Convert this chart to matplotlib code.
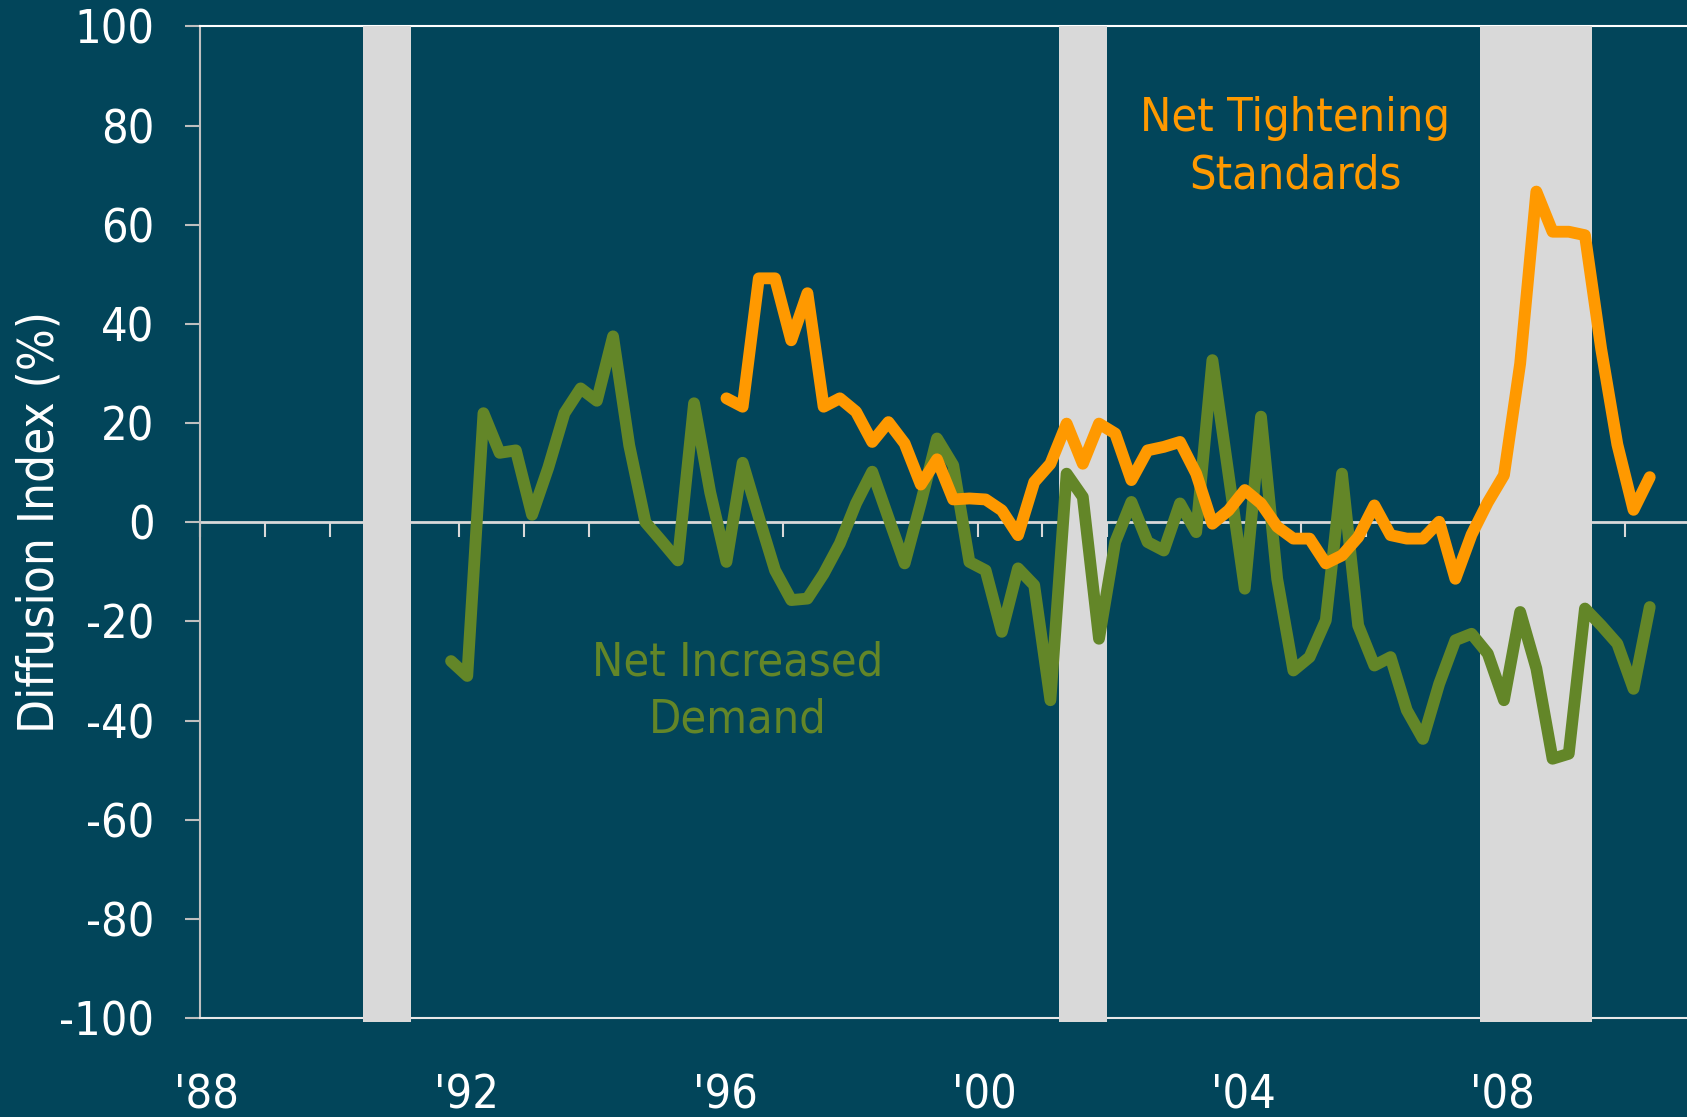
import matplotlib
matplotlib.use('Agg')
import matplotlib.pyplot as plt
import pandas as pd
from matplotlib.transforms import ScaledTranslation

plt.rcParams['font.family'] = ['DejaVu Sans']
plt.rcParams['font.stretch'] = 'condensed'
plt.rcParams['axes.unicode_minus'] = False

# quarterly survey data (net % of banks)
demand_start = '1991Q4'
demand = [-28,
          -31, 22, 14, 14.5,
          1.5, 11, 22, 27,
          24.5, 37.5, 15.5, 0,
          -3.8, -7.7, 24, 6,
          -8, 12, 1, -9.7,
          -15.7, -15.4, -10.4, -4.3,
          3.8, 10.2, 0.9, -8.3,
          3.9, 16.9, 11.5, -8,
          -9.7, -22.1, -9.3, -12.7,
          -35.9, 9.8, 5.1, -23.5,
          -4, 4.1, -4, -5.7,
          3.8, -2, 32.7, 9.6,
          -13.4, 21.3, -11.4, -29.9,
          -27.2, -19.8, 9.8, -20.8,
          -28.9, -27.2, -37.9, -43.7,
          -32.6, -23.8, -22.5, -26.5,
          -35.9, -18.1, -29.5, -47.7,
          -46.7, -17.4, -20.8, -24.5,
          -33.6, -17.1]

standards_start = '1996Q1'
standards = [25, 23.3, 49.2, 49.2,
             36.7, 46.2, 23.3, 25,
             22.3, 16.2, 20.2, 15.9,
             7.6, 12.7, 4.6, 4.8,
             4.6, 2.4, -2.6, 8.1,
             11.8, 19.9, 11.8, 19.9,
             17.9, 8.5, 14.5, 15.2,
             16.2, 9.8, -0.3, 2.4,
             6.5, 3.8, -0.9, -3.3,
             -3.3, -8.3, -6.7, -3,
             3.4, -2.6, -3.3, -3.3,
             0.1, -11.4, -2.5, 4,
             9.5, 32, 66.7, 58.6,
             58.6, 57.9, 35, 15.7,
             2.5, 9.1]

# recessions (decimal years)
rec_start = [1990.52, 2001.25, 2007.76]
rec_end = [1991.26, 2002.0, 2009.49]

year_ticks = [1988, 1992, 1996, 2000, 2004, 2008]
year_labels = ["'88", "'92", "'96", "'00", "'04", "'08"]
minor_years = list(range(1988, 2011))


def mid_quarter(start, n):
    p = pd.period_range(start, periods=n, freq='Q')
    return p.year + (p.quarter - 1) * 0.25 + 0.125


bg = '#02455A'
orange = '#FF9900'
green = '#638628'
grey = '#D9D9D9'
fs = 33.6

fig = plt.figure(figsize=(16.87, 11.17), dpi=100, facecolor=bg)
ax = fig.add_axes([0.11855, 0.0886, 0.88145, 0.8877])
ax.set_facecolor(bg)
ax.set_xlim(1988, 2010.95)
ax.set_ylim(-100, 100)

for s, e in zip(rec_start, rec_end):
    ax.axvspan(s, e, ymin=-0.004, ymax=1, color=grey, lw=0, zorder=2.6, clip_on=False)

ax.plot(mid_quarter(demand_start, len(demand)), demand, color=green, lw=8.5,
        solid_joinstyle='round', solid_capstyle='round', zorder=3)
ax.plot(mid_quarter(standards_start, len(standards)), standards, color=orange, lw=8.5,
        solid_joinstyle='round', solid_capstyle='round', zorder=3)

ax.spines['right'].set_visible(False)
ax.spines['left'].set_color('#BFBFBF')
ax.spines['top'].set_color('white')
ax.spines['bottom'].set_color('#E8E8E8')
for s in ['left', 'top', 'bottom']:
    ax.spines[s].set_linewidth(1.5)

ax.set_yticks(range(-100, 101, 20))
ax.tick_params(axis='y', colors='#BFBFBF', labelcolor='white', labelsize=fs,
               length=10.8, width=1.5, pad=22)
ax.set_xticks(year_ticks)
ax.set_xticklabels(year_labels)
ax.tick_params(axis='x', length=0, labelcolor='white', labelsize=fs, pad=40)
off = ScaledTranslation(0.07, 0, fig.dpi_scale_trans)
for lbl in ax.get_xticklabels():
    lbl.set_transform(lbl.get_transform() + off)

# zero line with yearly ticks
zero = ax.secondary_xaxis(0.5)
zero.set_alignment('bottom')
zero.set_zorder(2.4)
zero.set_xticks(minor_years)
zero.tick_params(axis='x', direction='out', length=10.8, width=1.5, colors=grey,
                 labelbottom=False, labeltop=False)
for sp in zero.spines.values():
    sp.set_color(grey)
    sp.set_linewidth(2)

ax.text(2004.9, 75.6, 'Net Tightening\nStandards', color=orange, fontsize=fs,
        ha='center', va='center', linespacing=1.35, zorder=4)
ax.text(1996.3, -34.1, 'Net Increased\nDemand', color=green, fontsize=fs,
        ha='center', va='center', linespacing=1.35, zorder=4)

fig.text(0.0237, 0.5327, 'Diffusion Index (%)', rotation=90, color='white',
         fontsize=35.4, ha='center', va='center')

fig.savefig('out.png', dpi=100, facecolor=bg)
